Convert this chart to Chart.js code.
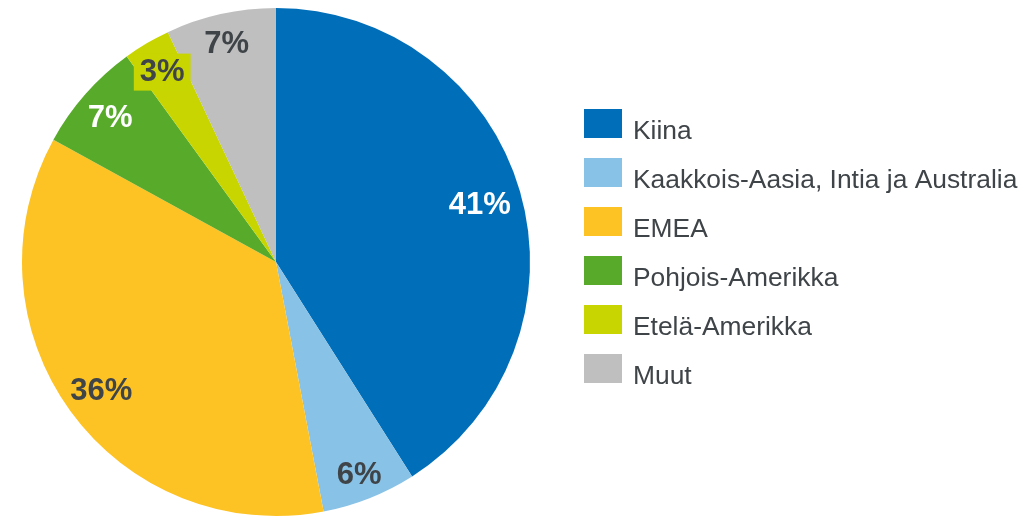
<!DOCTYPE html>
<html>
<head>
<meta charset="utf-8">
<script src="https://cdn.jsdelivr.net/npm/chart.js@4.4.0/dist/chart.umd.min.js"></script>
<style>
  html, body { margin: 0; padding: 0; background: #fff; }
  #wrap { position: relative; width: 1030px; height: 518px; }
</style>
</head>
<body>
<div id="wrap"><canvas id="pieChart" width="1030" height="518"></canvas></div>
<script>
// data
var regions = ['Kiina', 'Kaakkois-Aasia, Intia ja Australia', 'EMEA', 'Pohjois-Amerikka', 'Etelä-Amerikka', 'Muut']
var shares = [41, 6, 36, 7, 3, 7]

var sliceColors = ['#006EB8', '#88C2E6', '#FDC324', '#58AB2A', '#C8D500', '#BFBFBF']
var labelColors = ['#fff', '#3F4448', '#3F4448', '#fff', '#3F4448', '#3F4448']
var labelRadius = [0.835, 0.89, 0.85, 0.87, 0.88, 0.89]
var labelBoxed = [false, false, false, false, true, false]

// percent labels inside the slices
var sliceLabels = {
  id: 'sliceLabels',
  afterDatasetsDraw: function (chart) {
    var ctx = chart.ctx
    var meta = chart.getDatasetMeta(0)
    ctx.save()
    ctx.font = 'bold 31px "Liberation Sans", Arial, sans-serif'
    ctx.textAlign = 'center'
    ctx.textBaseline = 'middle'
    meta.data.forEach(function (arc, i) {
      var p = arc.getProps(['x', 'y', 'startAngle', 'endAngle', 'outerRadius'], true)
      var mid = (p.startAngle + p.endAngle) / 2
      var r = p.outerRadius * labelRadius[i]
      var x = p.x + Math.cos(mid) * r
      var y = p.y + Math.sin(mid) * r
      var txt = shares[i] + '%'
      if (labelBoxed[i]) {
        var w = ctx.measureText(txt).width + 12
        ctx.fillStyle = sliceColors[i]
        ctx.fillRect(x - w / 2, y - 16, w, 37)
      }
      ctx.fillStyle = labelColors[i]
      ctx.fillText(txt, x, y + 3)
    })
    ctx.restore()
  }
}

// legend on the right, drawn by hand
var sideLegend = {
  id: 'sideLegend',
  afterDraw: function (chart) {
    var ctx = chart.ctx
    ctx.save()
    ctx.font = '26.4px "Liberation Sans", Arial, sans-serif'
    ctx.textAlign = 'left'
    ctx.textBaseline = 'alphabetic'
    chart.data.labels.forEach(function (lab, i) {
      var top = 109 + i * 49
      ctx.fillStyle = sliceColors[i]
      ctx.fillRect(584, top, 38, 29)
      ctx.fillStyle = '#3F4448'
      ctx.fillText(lab, 633, top + 30)
    })
    ctx.restore()
  }
}

var pieCanvas = document.getElementById('pieChart').getContext('2d')
var pieChart = new Chart(pieCanvas, {
  type: 'pie',
  data: {
    labels: regions,
    datasets: [{
      data: shares,
      backgroundColor: sliceColors,
      borderWidth: 0
    }]
  },
  options: {
    responsive: false,
    animation: false,
    layout: { padding: { left: 22, right: 500, top: 8, bottom: 2 } },
    plugins: {
      legend: { display: false },
      tooltip: { enabled: false }
    }
  },
  plugins: [sliceLabels, sideLegend]
})
</script>
</body>
</html>
